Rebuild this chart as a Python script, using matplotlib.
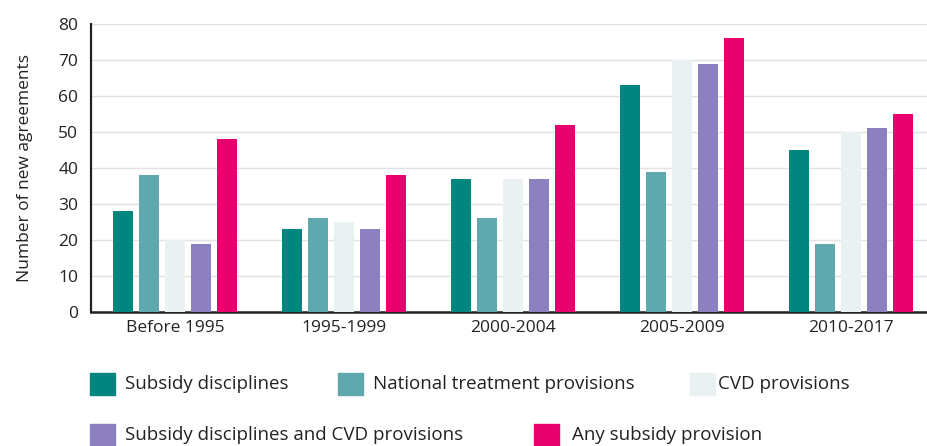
import matplotlib
matplotlib.use("Agg")
import matplotlib.pyplot as plt
import numpy as np
from matplotlib.patches import Rectangle

plt.rcParams['font.family'] = ['Open Sans', 'DejaVu Sans']

categories = ["Before 1995", "1995-1999", "2000-2004", "2005-2009", "2010-2017"]
series_names = ["Subsidy disciplines", "National treatment provisions", "CVD provisions",
                "Subsidy disciplines and CVD provisions", "Any subsidy provision"]
subsidy_disciplines = [28, 23, 37, 63, 45]
national_treatment = [38, 26, 26, 39, 19]
cvd_provisions = [20, 25, 37, 70, 50]
subsidy_and_cvd = [19, 23, 37, 69, 51]
any_subsidy = [48, 38, 52, 76, 55]
yticks = [0, 10, 20, 30, 40, 50, 60, 70, 80]

series = [subsidy_disciplines, national_treatment, cvd_provisions, subsidy_and_cvd, any_subsidy]
colors = ["#00857f", "#5ea8ae", "#e9f1f3", "#8c80c0", "#e8006f"]

fig = plt.figure(figsize=(9.27, 4.46), dpi=100)
ax = fig.add_axes([0.098, 0.3004, 0.902, 0.6456])

x = np.arange(len(categories))
width = 0.118
step = 0.154
for i, (vals, c) in enumerate(zip(series, colors)):
    ax.bar(x + (i - 2) * step, vals, width=width, color=c, zorder=3)

ax.set_xlim(-0.5, 4.45)
ax.set_ylim(0, 80)
ax.set_yticks(yticks)
ax.set_xticks(x)
ax.set_xticklabels(categories, fontsize=12.5, color="#222222")
ax.tick_params(axis='y', labelsize=12.5, length=0, pad=9, colors="#222222")
ax.tick_params(axis='x', length=0, pad=6)
ax.yaxis.grid(True, color="#e2e2e2", lw=1, zorder=0)
for s in ["top", "right"]:
    ax.spines[s].set_visible(False)
ax.spines["left"].set_linewidth(1.6)
ax.spines["bottom"].set_linewidth(1.8)
ax.spines["left"].set_color("#222222")
ax.spines["bottom"].set_color("#222222")
ax.set_ylabel("Number of new agreements", fontsize=12.5, color="#222222", labelpad=18)

# Legend (manual placement)
W, H = 927, 446
positions = [(90, 384, 125), (338, 384, 373), (690, 384, 718), (90, 435, 125), (534, 435, 572)]
for (sx, sy, tx), name, c in zip(positions, series_names, colors):
    fig.patches.append(Rectangle((sx / W, 1 - (sy + 11) / H), 25 / W, 22 / H,
                                 transform=fig.transFigure, color=c, figure=fig))
    fig.text(tx / W, 1 - sy / H, name, fontsize=13.5, va="center", ha="left", color="#222222")

fig.savefig("out.png", dpi=100)
